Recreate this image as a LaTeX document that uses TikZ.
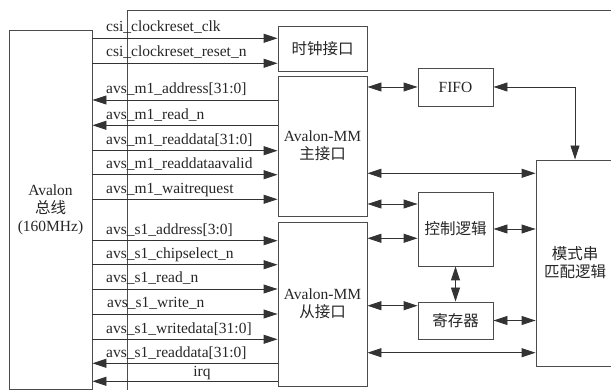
\documentclass[tikz,border=0pt]{standalone}
\usepackage{fontspec}
\setmainfont{Liberation Serif}
\newfontfamily\cjk{Noto Sans CJK SC}
\usetikzlibrary{arrows.meta}
\begin{document}
\begin{tikzpicture}[x=1pt,y=-1pt,
  font=\fontsize{15.5}{18}\selectfont,
  box/.style={draw=black!70, line width=0.9pt, align=center, inner sep=0pt, text=black!85},
  sig/.style={draw=black!80, line width=0.9pt},
  tip/.style={-{Triangle[length=14pt,width=9pt]}},
  bi/.style={{Triangle[length=14pt,width=9pt]}-{Triangle[length=14pt,width=9pt]}},
  lbl/.style={anchor=base west, inner sep=0pt, text=black!85},
  frame/.style={draw=black!70, line width=0.9pt}
]
\useasboundingbox (0,0) rectangle (611,390);
\clip (0,0) rectangle (611,390);

% outer module frame
\draw[frame] (127,392) -- (127,10) -- (615,10);

% blocks
\node[box, minimum width=83pt, minimum height=359pt] (avalon) at (50.5,209.5)
  {Avalon\\{\cjk 总线}\\(160MHz)};
\node[box, minimum width=89pt, minimum height=45pt] (clk) at (322.5,48.5) {\cjk 时钟接口};
\node[box, minimum width=89pt, minimum height=140pt] (master) at (322.5,146)
  {Avalon-MM\\{\cjk 主接口}};
\node[box, minimum width=89pt, minimum height=164pt] (slave) at (322.5,304)
  {Avalon-MM\\{\cjk 从接口}};
\node[box, minimum width=75pt, minimum height=38pt] (fifo) at (455.5,87) {FIFO};
\node[box, minimum width=75pt, minimum height=74pt] (ctrl) at (455.5,229) {\cjk 控制逻辑};
\node[box, minimum width=75pt, minimum height=37pt] (reg) at (455.5,320.5) {\cjk 寄存器};
\node[box, minimum width=78pt, minimum height=206pt] (match) at (575,263)
  {\cjk 模式串\\\cjk 匹配逻辑};

% clock / reset inputs
\draw[sig,tip] (avalon.east |- 0,38.3) -- (clk.west |- 0,38.3);
\node[lbl] (l1) at (106,32) {csi\_clockreset\_clk};
\draw[sig,tip] (avalon.east |- 0,63.3) -- (clk.west |- 0,63.3);
\node[lbl] (l2) at (106,57) {csi\_clockreset\_reset\_n};

% master port signals
\draw[sig,tip] (master.west |- 0,100) -- (avalon.east |- 0,100);
\node[lbl] (l3) at (106,94) {avs\_m1\_address[31:0]};
\draw[sig,tip] (master.west |- 0,125.3) -- (avalon.east |- 0,125.3);
\node[lbl] (l4) at (106,119.3) {avs\_m1\_read\_n};
\draw[sig,tip] (avalon.east |- 0,150.7) -- (master.west |- 0,150.7);
\node[lbl] (l5) at (106,144.7) {avs\_m1\_readdata[31:0]};
\draw[sig,tip] (avalon.east |- 0,174.7) -- (master.west |- 0,174.7);
\node[lbl] (l6) at (106,168.7) {avs\_m1\_readdataavalid};
\draw[sig,tip] (avalon.east |- 0,199.3) -- (master.west |- 0,199.3);
\node[lbl] (l7) at (106,193.3) {avs\_m1\_waitrequest};

% slave port signals
\draw[sig,tip] (avalon.east |- 0,240.7) -- (slave.west |- 0,240.7);
\node[lbl] (l8) at (106,234.7) {avs\_s1\_address[3:0]};
\draw[sig,tip] (avalon.east |- 0,264.7) -- (slave.west |- 0,264.7);
\node[lbl] (l9) at (106,258.7) {avs\_s1\_chipselect\_n};
\draw[sig,tip] (avalon.east |- 0,289) -- (slave.west |- 0,289);
\node[lbl] (l10) at (106,283) {avs\_s1\_read\_n};
\draw[sig,tip] (avalon.east |- 0,314) -- (slave.west |- 0,314);
\node[lbl] (l11) at (107,308) {avs\_s1\_write\_n};
\draw[sig,tip] (avalon.east |- 0,339.3) -- (slave.west |- 0,339.3);
\node[lbl] (l12) at (106,333.3) {avs\_s1\_writedata[31:0]};
\draw[sig,tip] (slave.west |- 0,363.3) -- (avalon.east |- 0,363.3);
\node[lbl] (l13) at (106,357.3) {avs\_s1\_readdata[31:0]};
\draw[sig,tip] (slave.west |- 0,381.3) -- (avalon.east |- 0,381.3);
\node[anchor=base, inner sep=0pt, text=black!85] (l14) at (202,376) {irq};

% internal connections
\draw[sig,bi] (master.east |- fifo.west) -- (fifo.west);
\draw[sig,bi] (fifo.east) -| (match.north);
\draw[sig,bi] (master.east |- 0,173.3) -- (match.west |- 0,173.3);
\draw[sig,bi] (master.east |- 0,204) -- (ctrl.west |- 0,204);
\draw[sig,bi] (slave.east |- 0,238.3) -- (ctrl.west |- 0,238.3);
\draw[sig,bi] (ctrl.east) -- (match.west |- ctrl.east);
\draw[sig,bi] (ctrl.south) -- (reg.north);
\draw[sig,bi] (slave.east |- 0,305.7) -- (reg.west |- 0,305.7);
\draw[sig,bi] (reg.east) -- (match.west |- reg.east);
\draw[sig,bi] (slave.east |- 0,352.7) -- (match.west |- 0,352.7);
\end{tikzpicture}
\end{document}
